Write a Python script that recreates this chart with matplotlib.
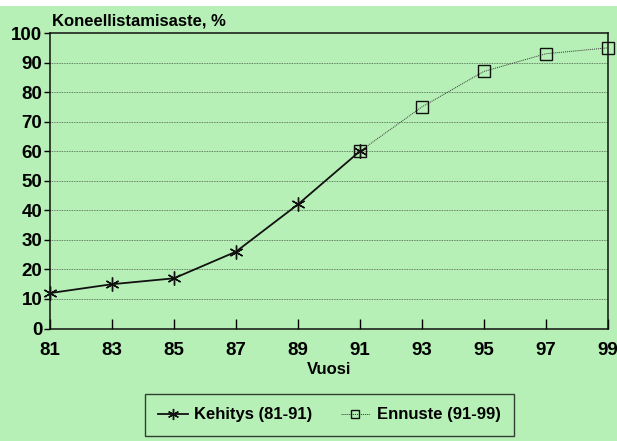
import numpy as np
import matplotlib as mpl
import matplotlib.pyplot as plt

mpl.rcParams['font.family'] = ['Liberation Sans', 'DejaVu Sans']
mpl.rcParams['font.weight'] = 'bold'

# data
years_hist = [81, 83, 85, 87, 89, 91]
vals_hist = [12, 15, 17, 26, 42, 60]
years_fc = [91, 93, 95, 97, 99]
vals_fc = [60, 75, 87, 93, 95]
xticks = [81, 83, 85, 87, 89, 91, 93, 95, 97, 99]
yticks = [0, 10, 20, 30, 40, 50, 60, 70, 80, 90, 100]

bg = '#b6f0b6'
fs = 12

fig = plt.figure(figsize=(6.17, 4.41), dpi=100)
fig.patch.set_facecolor(bg)
# white strip of the scan at the top
fig.patches.append(plt.Rectangle((0, 0.986), 1, 0.014, transform=fig.transFigure,
                                 facecolor='white', edgecolor='none'))
ax = fig.add_axes([0.081, 0.255, 0.904, 0.670])
ax.set_facecolor(bg)

for y in yticks[1:-1]:
    ax.axhline(y, color='#4a5a4a', lw=0.6, ls=(0, (1, 1)), zorder=1)

ax.plot(years_fc, vals_fc, color='#333333', lw=0.7, ls=(0, (1, 1)),
        marker='s', ms=8, mfc='none', mec='#111111', mew=1.0,
        label='Ennuste (91-99)', zorder=2, clip_on=False)
ax.plot(years_hist, vals_hist, color='#111111', lw=1.3,
        marker=(6, 2, 0), ms=10, mew=1.0, mec='#111111',
        label='Kehitys (81-91)', zorder=3, clip_on=False)

ax.set_xlim(81, 99)
ax.set_ylim(0, 100)
ax.set_xticks(xticks)
ax.set_yticks(yticks)
ax.tick_params(axis='x', direction='in', length=7, width=1, pad=10, labelsize=13.5)
ax.tick_params(axis='y', direction='out', length=4, width=1, pad=1.5, labelsize=13.5)
for s in ax.spines.values():
    s.set_linewidth(1.1)
    s.set_color('#111111')

ax.set_xlabel('Vuosi', fontsize=12, fontweight='bold', labelpad=2)
fig.text(0.084, 0.943, 'Koneellistamisaste, %', fontsize=fs, fontweight='bold',
         va='baseline', ha='left')

h, l = ax.get_legend_handles_labels()
leg = fig.legend(h[::-1], l[::-1], loc='center', bbox_to_anchor=(0.534, 0.059),
                 ncol=2, frameon=True, fancybox=False, edgecolor='#111111',
                 facecolor=bg, fontsize=fs, handlelength=1.75, handletextpad=0.4,
                 columnspacing=1.7, borderpad=0.8, borderaxespad=0,
                 markerscale=0.8)
leg.get_frame().set_linewidth(1.0)

fig.savefig('out.png', dpi=100, facecolor=bg)
